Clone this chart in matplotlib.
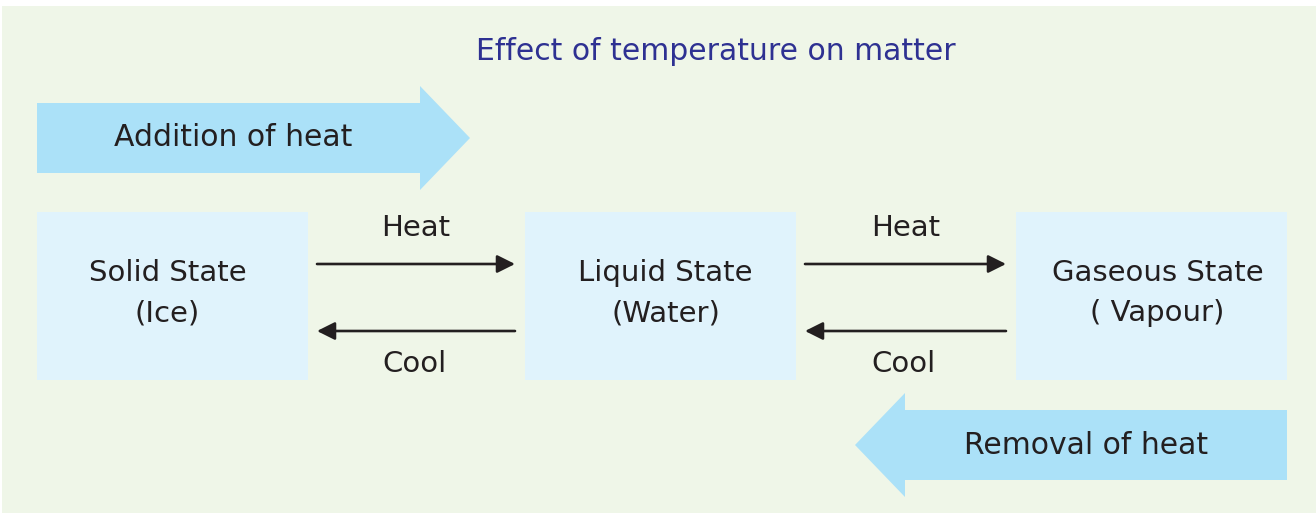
import matplotlib
matplotlib.use("Agg")
import matplotlib.pyplot as plt
from matplotlib.patches import Rectangle, Polygon, FancyArrowPatch

# Diagram content
title = "Effect of temperature on matter"
states = ["Solid State\n(Ice)", "Liquid State\n(Water)", "Gaseous State\n( Vapour)"]
forward_label = "Heat"
backward_label = "Cool"
big_arrows = ["Addition of heat", "Removal of heat"]

# Colours
bg_col = "#eff6e8"
box_col = "#e0f3fc"
fat_col = "#abe1f8"
text_col = "#231f20"
title_col = "#2e3192"

W, H = 1316, 513
fig = plt.figure(figsize=(W / 100, H / 100), dpi=100)
ax = fig.add_axes([0, 0, 1, 1])
ax.set_xlim(0, W)
ax.set_ylim(H, 0)
ax.axis("off")

plt.rcParams['font.family'] = ['DejaVu Sans']

# background panel
ax.add_patch(Rectangle((2, 6), W - 2, H - 6, color=bg_col, lw=0))

ax.text(716, 51, title, ha='center', va='center', fontsize=21.5, color=title_col)

# state boxes
box_x = [37, 525, 1016]
text_shift = [-5, 5, 6]   # labels aren't quite centred in the original
box_w, box_top, box_h = 271, 212, 168
for x, dx, label in zip(box_x, text_shift, states):
    ax.add_patch(Rectangle((x, box_top), box_w, box_h, color=box_col, lw=0))
    ax.text(x + box_w / 2 + dx, 293, label, ha='center', va='center', fontsize=21,
            color=text_col, linespacing=1.55)

# heat / cool arrows between boxes
for i in range(len(states) - 1):
    x0 = box_x[i] + box_w + 9
    x1 = box_x[i + 1] - 10
    mid = (x0 + x1) / 2
    ax.add_patch(FancyArrowPatch((x0, 264), (x1, 264), arrowstyle='-|>',
                                 mutation_scale=27, lw=1.9, color=text_col,
                                 shrinkA=0, shrinkB=0))
    ax.add_patch(FancyArrowPatch((x1, 331), (x0, 331), arrowstyle='-|>',
                                 mutation_scale=27, lw=1.9, color=text_col,
                                 shrinkA=0, shrinkB=0))
    ax.text(mid, 228, forward_label, ha='center', va='center', fontsize=21, color=text_col)
    ax.text(mid - 2, 364, backward_label, ha='center', va='center', fontsize=21, color=text_col)


def fat_arrow(x_tail, x_neck, x_tip, yc, half_body=35, half_head=52):
    pts = [(x_tail, yc - half_body), (x_neck, yc - half_body), (x_neck, yc - half_head),
           (x_tip, yc), (x_neck, yc + half_head), (x_neck, yc + half_body),
           (x_tail, yc + half_body)]
    ax.add_patch(Polygon(pts, closed=True, color=fat_col, lw=0))


fat_arrow(37, 420, 470, 138)
ax.text(233, 138, big_arrows[0], ha='center', va='center', fontsize=21.5, color=text_col)

fat_arrow(1287, 905, 855, 445)
ax.text(1086, 445, big_arrows[1], ha='center', va='center', fontsize=21.5, color=text_col)

fig.savefig("out.png", dpi=100)
